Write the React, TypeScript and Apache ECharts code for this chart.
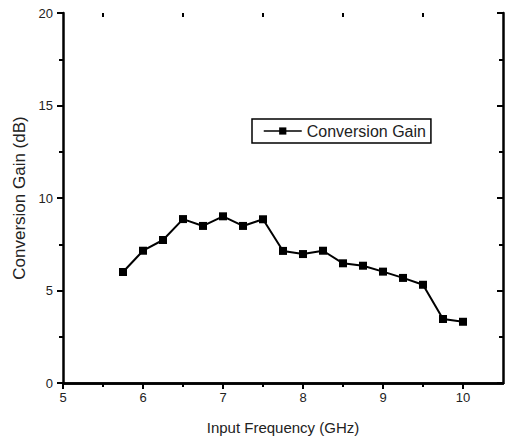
import React, { useEffect, useRef } from "react";
import * as echarts from "echarts";

const freqs = [5.75, 6, 6.25, 6.5, 6.75, 7, 7.25, 7.5, 7.75, 8, 8.25, 8.5, 8.75, 9, 9.25, 9.5, 9.75, 10];
const gains = [6.0, 7.15, 7.73, 8.86, 8.49, 9.01, 8.49, 8.85, 7.14, 6.97, 7.15, 6.47, 6.34, 6.02, 5.68, 5.31, 3.46, 3.31];
const xMajorTicks = [5, 6, 7, 8, 9, 10];
const xMinorTicks = [5.5, 6.5, 7.5, 8.5, 9.5];
const seriesName = "Conversion Gain";
const xName = "Input Frequency (GHz)";
const yName = "Conversion Gain (dB)";

const FONT = "'Liberation Sans', Arial, sans-serif";
const TXT = "#222";

export default function App() {
  const ref = useRef<HTMLDivElement>(null);
  useEffect(() => {
    if (!ref.current) return;
    const chart = echarts.init(ref.current, null, { renderer: "svg" });
    const mkLine = () => ({ show: true, lineStyle: { color: "#000", width: 2.5 } });
    const gridRect = { left: 63, top: 13, right: 2, bottom: 58 };
    chart.setOption({
      animation: false,
      backgroundColor: "#fff",
      textStyle: { fontFamily: FONT },
      grid: [
        { ...gridRect, containLabel: false },
        { ...gridRect, containLabel: false },
      ],
      legend: {
        left: 252,
        top: 119,
        orient: "horizontal",
        padding: [4, 5, 4, 11],
        borderColor: "#000",
        borderWidth: 1.5,
        itemWidth: 38,
        itemHeight: 9,
        itemGap: 5,
        lineStyle: { width: 1.5 },
        textStyle: { fontSize: 16, color: TXT, fontFamily: FONT },
        data: [seriesName],
      },
      xAxis: [
        {
          type: "value",
          gridIndex: 0,
          position: "bottom",
          min: 5,
          max: 10.5,
          interval: 1,
          axisLine: mkLine(),
          axisTick: { show: true, inside: false, length: 6, customValues: xMajorTicks, lineStyle: { color: "#000", width: 2 } },
          axisLabel: { show: true, customValues: xMajorTicks, margin: 8, fontSize: 13, color: TXT, fontFamily: FONT },
          splitLine: { show: false },
          name: xName,
          nameLocation: "middle",
          nameGap: 37,
          nameTextStyle: { fontSize: 15, color: TXT, fontFamily: FONT },
        },
        {
          type: "value",
          gridIndex: 0,
          position: "top",
          min: 5,
          max: 10.5,
          interval: 1,
          axisLine: mkLine(),
          axisTick: { show: true, inside: true, length: 6, customValues: xMajorTicks, lineStyle: { color: "#000", width: 2 } },
          axisLabel: { show: false },
          splitLine: { show: false },
        },
        {
          type: "value",
          gridIndex: 1,
          position: "bottom",
          min: 5,
          max: 10.5,
          interval: 1,
          axisLine: { show: false },
          axisTick: { show: true, inside: false, length: 4, customValues: xMinorTicks, lineStyle: { color: "#000", width: 2 } },
          axisLabel: { show: false },
          splitLine: { show: false },
        },
        {
          type: "value",
          gridIndex: 1,
          position: "top",
          min: 5,
          max: 10.5,
          interval: 1,
          axisLine: { show: false },
          axisTick: { show: true, inside: true, length: 4, customValues: xMinorTicks, lineStyle: { color: "#000", width: 2 } },
          axisLabel: { show: false },
          splitLine: { show: false },
        },
      ],
      yAxis: [
        {
          type: "value",
          gridIndex: 0,
          position: "left",
          min: 0,
          max: 20,
          interval: 5,
          axisLine: mkLine(),
          axisTick: { show: true, inside: false, length: 6, lineStyle: { color: "#000", width: 2 } },
          minorTick: { show: true, splitNumber: 2, length: 4, lineStyle: { color: "#000", width: 2 } },
          axisLabel: { show: true, margin: 10, fontSize: 13, color: TXT, fontFamily: FONT },
          splitLine: { show: false },
          minorSplitLine: { show: false },
          name: yName,
          nameLocation: "middle",
          nameGap: 33,
          nameTextStyle: { fontSize: 17, color: TXT, fontFamily: FONT },
        },
        {
          type: "value",
          gridIndex: 0,
          position: "right",
          min: 0,
          max: 20,
          interval: 5,
          axisLine: mkLine(),
          axisTick: { show: true, inside: true, length: 6, lineStyle: { color: "#000", width: 2 } },
          minorTick: { show: true, splitNumber: 2, length: 4, lineStyle: { color: "#000", width: 2 } },
          axisLabel: { show: false },
          splitLine: { show: false },
          minorSplitLine: { show: false },
        },
        {
          type: "value",
          gridIndex: 1,
          min: 0,
          max: 20,
          show: false,
        },
      ],
      series: [
        {
          name: seriesName,
          type: "line",
          xAxisIndex: 0,
          yAxisIndex: 0,
          data: freqs.map((f, i) => [f, gains[i]]),
          symbol: "rect",
          symbolSize: 8,
          showSymbol: true,
          lineStyle: { color: "#000", width: 2 },
          itemStyle: { color: "#000", borderWidth: 0 },
          emphasis: { disabled: true },
        },
      ],
    });
    return () => chart.dispose();
  }, []);
  return <div ref={ref} style={{ width: 505, height: 441, position: "absolute", left: 0, top: 0 }} />;
}
